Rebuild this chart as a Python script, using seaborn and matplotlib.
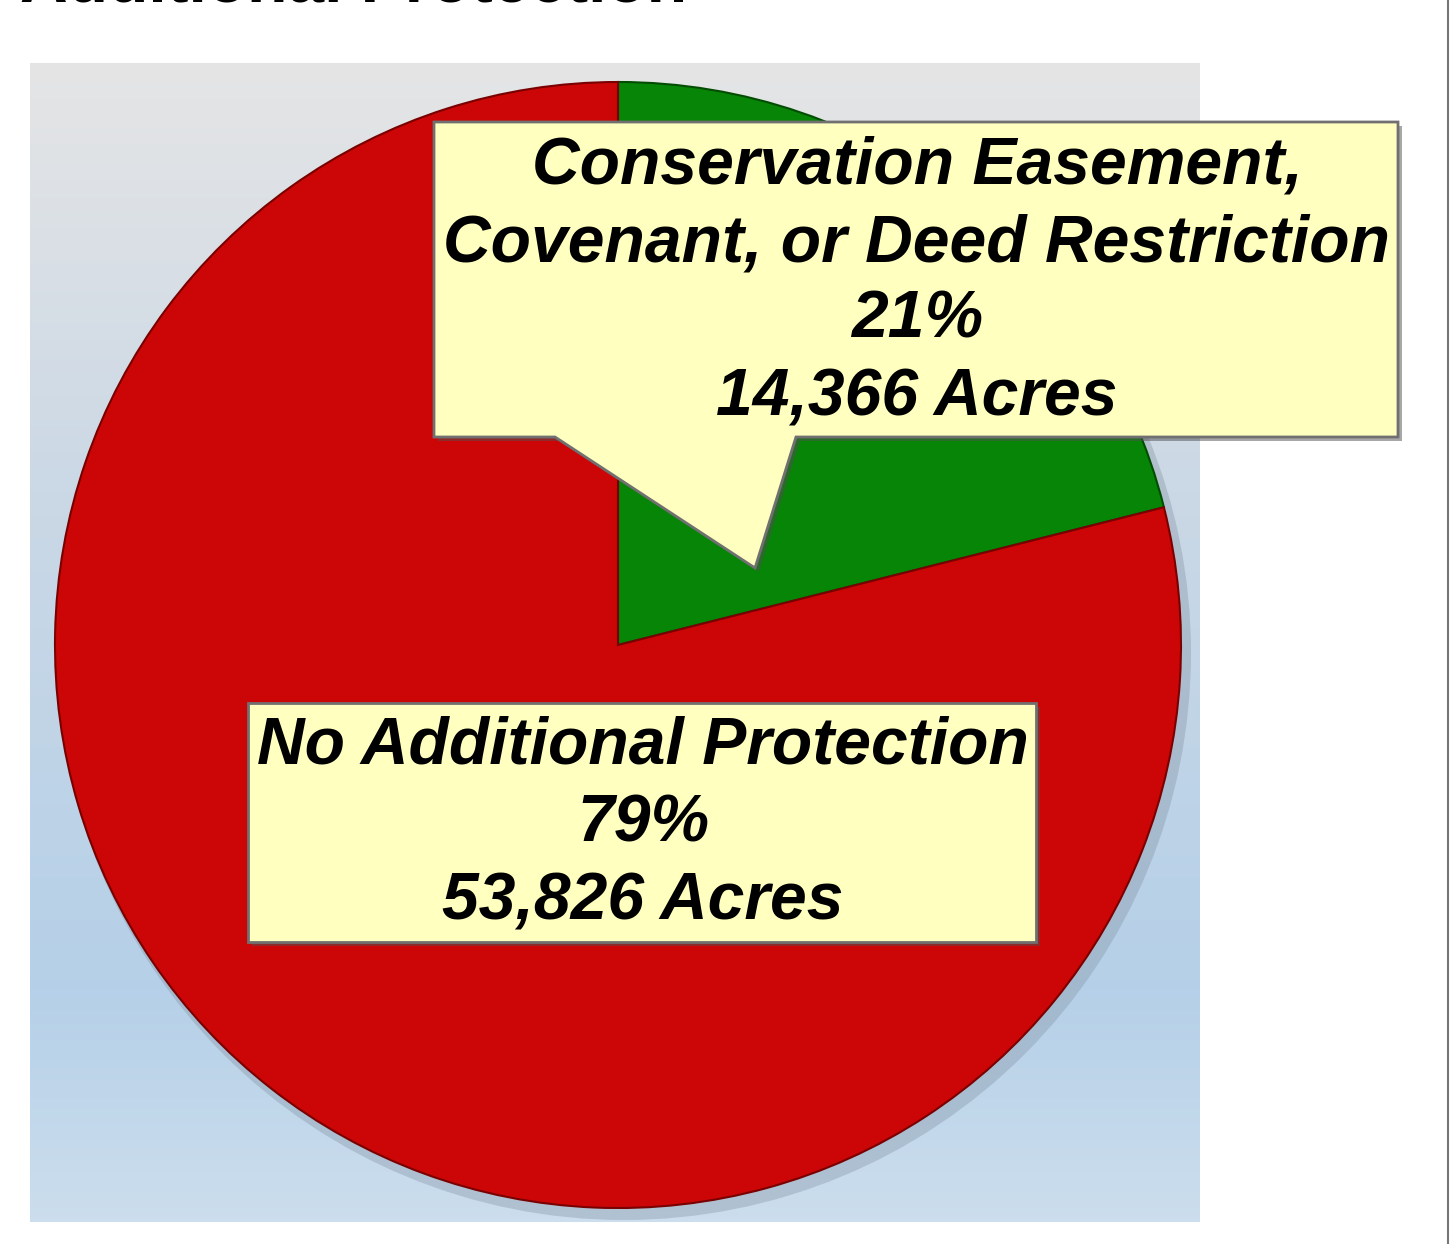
import numpy as np
import matplotlib
matplotlib.use("Agg")
import matplotlib.pyplot as plt
import seaborn as sns
from matplotlib.patches import Polygon, Rectangle

sns.set_theme(style="white")
plt.rcParams['font.family'] = ['Liberation Sans', 'DejaVu Sans']

# data
categories = ["Conservation Easement,\nCovenant, or Deed Restriction", "No Additional Protection"]
acres = [14366, 53826]
percents = ["21%", "79%"]
colors = ["#068506", "#cc0606"]
title = "Additional Protection"

W, H = 1450, 1244
fig = plt.figure(figsize=(W / 100, H / 100), dpi=100)
fig.patch.set_facecolor("white")
ax = fig.add_axes([0, 0, 1, 1])
ax.set_xlim(0, W)
ax.set_ylim(0, H)
ax.set_axis_off()

def Y(y):
    return H - y

# background gradient panel
stops_y = np.array([0.0, 0.35, 0.8, 1.0])
stops_c = np.array([[0.898, 0.898, 0.898],
                    [0.80, 0.85, 0.90],
                    [0.71, 0.815, 0.91],
                    [0.80, 0.87, 0.93]])
t = np.linspace(0, 1, 300)
grad = np.stack([np.interp(t, stops_y, stops_c[:, k]) for k in range(3)], axis=-1)
grad = np.repeat(grad[:, None, :], 2, axis=1)
ax.imshow(grad, extent=[30, 1200, Y(1222), Y(63)], origin="upper", aspect="auto", zorder=0)

# right edge line
ax.plot([1448, 1448], [0, H], color="#777777", lw=1.5, zorder=1)

# clipped title
fig.text(0.014, 1.0 + 15 / H, title, fontsize=47.5, fontweight="bold", ha="left", va="center", color="black")

# pie shadow
cx, cy, r = 618, Y(645), 563
sh = plt.Circle((cx + 6, cy - 8), r + 4, color="#7f8fa0", alpha=0.35, zorder=1, lw=0)
ax.add_patch(sh)

wedges, _ = ax.pie(acres, colors=colors, startangle=90, counterclock=False,
                   center=(cx, cy), radius=r, explode=[0.02, 0.01],
                   wedgeprops=dict(edgecolor="#7a0000", linewidth=1.5), frame=True)
wedges[0].set_edgecolor("#034d03")
for w in wedges:
    w.set_zorder(2)
ax.set_xlim(0, W)
ax.set_ylim(0, H)
ax.set_axis_off()

box_face = "#ffffc0"
box_edge = "#707070"

# callout 1 with pointer
x0, x1, y0, y1 = 434, 1398, 122, 437
pts1 = [(x0, y0), (x1, y0), (x1, y1), (796, y1), (755, 568), (555, y1), (x0, y1)]
shadow1 = Polygon([(x + 4, Y(y) - 4) for x, y in pts1], closed=True, facecolor="#505050", alpha=0.5, lw=0, zorder=3)
ax.add_patch(shadow1)
ax.add_patch(Polygon([(x, Y(y)) for x, y in pts1], closed=True, facecolor=box_face, edgecolor=box_edge, lw=2, zorder=4))
lines1 = categories[0].split("\n") + [percents[0], f"{acres[0]:,} Acres"]
for i, s in enumerate(lines1):
    ax.text(917, Y(167 + 77 * i), s, fontsize=47.5, fontweight="bold", fontstyle="italic",
            ha="center", va="center", color="black", zorder=5)

# callout 2
bx0, bx1, by0, by1 = 248, 1036, 703, 942
ax.add_patch(Rectangle((bx0 + 4, Y(by1) - 4), bx1 - bx0, by1 - by0, facecolor="#505050", alpha=0.5, lw=0, zorder=3))
ax.add_patch(Rectangle((bx0, Y(by1)), bx1 - bx0, by1 - by0, facecolor=box_face, edgecolor=box_edge, lw=2, zorder=4))
lines2 = [categories[1], percents[1], f"{acres[1]:,} Acres"]
for i, s in enumerate(lines2):
    ax.text(643, Y(747 + 78 * i), s, fontsize=47.5, fontweight="bold", fontstyle="italic",
            ha="center", va="center", color="black", zorder=5)

fig.savefig("out.png", dpi=100)
